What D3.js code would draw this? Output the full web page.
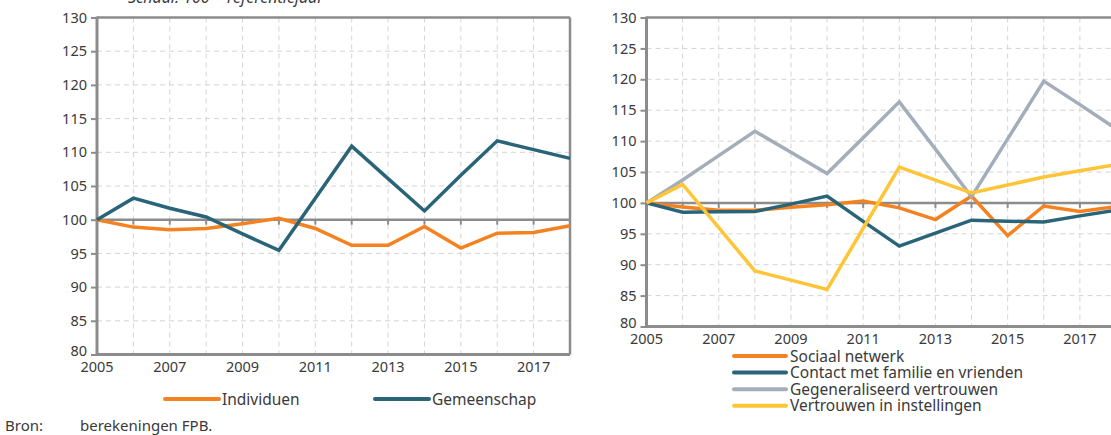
<!DOCTYPE html>
<html>
<head>
  <meta charset="utf-8">
  <script src="https://d3js.org/d3.v7.min.js"></script>
  <style>
    body { margin: 0; background: #fff; }
    svg text { font-family: "Noto Sans", sans-serif; fill: #3a3a3a; }
  </style>
</head>
<body>
  <div id="chart"></div>
  <script type="text/javascript">
  // data
  var years = [2005, 2006, 2007, 2008, 2009, 2010, 2011, 2012, 2013, 2014, 2015, 2016, 2017, 2018];
  var xLabels = [2005, 2007, 2009, 2011, 2013, 2015, 2017];
  var yTicks = [80, 85, 90, 95, 100, 105, 110, 115, 120, 125, 130];

  var individuen  = [100, 98.9, 98.5, 98.7, 99.4, 100.2, 98.7, 96.2, 96.2, 99.0, 95.8, 98.0, 98.1, 99.1];
  var gemeenschap = [100, 103.2, 101.7, 100.4, 97.9, 95.45, 103.2, 110.9, 106.1, 101.3, 106.6, 111.7, 110.4, 109.1];

  var sociaalNetwerk = [100, 99.35, 98.8, 98.8, 99.3, 99.7, 100.3, 99.2, 97.3, 101.1, 94.7, 99.5, 98.6, 99.4];
  var contactFamilie = [100, 98.5, 98.55, 98.6, 99.8, 101.1, 97.0, 93.0, 95.1, 97.2, 97.05, 96.9, 97.9, 98.8];
  var gegeneraliseerd = [100, 103.7, 107.65, 111.6, 108.2, 104.75, 110.55, 116.35, 108.7, 101.0, 110.35, 119.7, 115.9, 112.0];
  var instellingen = [100, 103.0, 96.0, 89.0, 87.5, 86.0, 95.9, 105.8, 103.7, 101.6, 102.9, 104.2, 105.2, 106.2];

  var W = 1111, H = 435;
  var svg = d3.select("#chart").append("svg")
      .attr("width", W)
      .attr("height", H);

  var axisCol = "#8c8c8c", gridCol = "#d4d4d4";

  function panel(o) {
    var x = d3.scaleLinear().domain([2005, 2018]).range([o.left, o.right]);
    var y = d3.scaleLinear().domain([80, 130]).range([o.bottom, o.top]);
    var g = svg.append("g");

    // dashed grid
    g.selectAll(".vg").data(years.slice(1)).enter().append("line")
      .attr("x1", function(d) { return x(d); }).attr("x2", function(d) { return x(d); })
      .attr("y1", o.top).attr("y2", o.bottom)
      .attr("stroke", gridCol).attr("stroke-width", 1).attr("stroke-dasharray", "5,4");
    g.selectAll(".hg").data(yTicks.filter(function(d) { return d > 80 && d < 130 && d != 100; })).enter().append("line")
      .attr("x1", o.left).attr("x2", o.right)
      .attr("y1", function(d) { return y(d); }).attr("y2", function(d) { return y(d); })
      .attr("stroke", gridCol).attr("stroke-width", 1).attr("stroke-dasharray", "5,4");

    // frame top/right
    g.append("line").attr("x1", o.left).attr("x2", o.right).attr("y1", o.top).attr("y2", o.top)
      .attr("stroke", axisCol).attr("stroke-width", 2.5);
    g.append("line").attr("x1", o.right).attr("x2", o.right).attr("y1", o.top).attr("y2", o.bottom)
      .attr("stroke", axisCol).attr("stroke-width", 2.5);

    // horizontal axis at 100 with ticks
    g.append("line").attr("x1", o.left).attr("x2", o.right).attr("y1", y(100)).attr("y2", y(100))
      .attr("stroke", axisCol).attr("stroke-width", 2.5);
    g.selectAll(".xt").data(years).enter().append("line")
      .attr("x1", function(d) { return x(d); }).attr("x2", function(d) { return x(d); })
      .attr("y1", y(100)).attr("y2", y(100) + 5)
      .attr("stroke", axisCol).attr("stroke-width", 2);

    // y axis
    var ya = d3.axisLeft(y).tickValues(yTicks).tickSize(6).tickPadding(4);
    var yg = g.append("g").attr("transform", "translate(" + o.left + ",0)").call(ya);
    yg.select(".domain").remove();
    yg.selectAll(".tick line").attr("stroke", axisCol).attr("stroke-width", 2);
    yg.selectAll(".tick text").attr("font-size", 14.5).attr("fill", "#3a3a3a")
      .style("font-family", "'Noto Sans', sans-serif");
    yg.selectAll(".tick").filter(function(d) { return d == 80; }).select("text").attr("dy", "0.1em");

    // bottom axis line + left axis line
    g.append("line").attr("x1", o.left).attr("x2", o.right).attr("y1", o.bottom).attr("y2", o.bottom)
      .attr("stroke", axisCol).attr("stroke-width", 3);
    g.append("line").attr("x1", o.left).attr("x2", o.left).attr("y1", o.top - 1).attr("y2", o.bottom + 1.5)
      .attr("stroke", axisCol).attr("stroke-width", 3);

    // year labels
    g.selectAll(".xl").data(xLabels).enter().append("text")
      .attr("x", function(d) { return x(d); })
      .attr("y", o.bottom + 17)
      .attr("text-anchor", "middle")
      .attr("font-size", 14.5)
      .text(function(d) { return d; });

    var line = d3.line()
      .x(function(d, i) { return x(years[i]); })
      .y(function(d) { return y(d); });

    o.series.forEach(function(s) {
      g.append("path")
        .attr("d", line(s.values))
        .attr("fill", "none")
        .attr("stroke", s.color)
        .attr("stroke-width", 3.5)
        .attr("stroke-linejoin", "miter");
    });
  }

  var colOrange = "#f58220", colTeal = "#2a6479", colGray = "#a3aeba", colYellow = "#ffc537";

  panel({
    left: 97, right: 570, top: 17.5, bottom: 354.5,
    series: [
      { values: individuen, color: colOrange },
      { values: gemeenschap, color: colTeal }
    ]
  });

  panel({
    left: 646.5, right: 1116, top: 17.5, bottom: 326.5,
    series: [
      { values: sociaalNetwerk, color: colOrange },
      { values: contactFamilie, color: colTeal },
      { values: gegeneraliseerd, color: colGray },
      { values: instellingen, color: colYellow }
    ]
  });

  // subtitle (cut off at the top)
  svg.append("text")
    .attr("x", 128).attr("y", 3)
    .attr("font-size", 16)
    .attr("font-style", "italic")
    .text("Schaal: 100 = referentiejaar");

  // left legend
  var legLeft = [
    { name: "Individuen", color: colOrange, x: 165 },
    { name: "Gemeenschap", color: colTeal, x: 375 }
  ];
  legLeft.forEach(function(l) {
    svg.append("line").attr("x1", l.x).attr("x2", l.x + 54).attr("y1", 399).attr("y2", 399)
      .attr("stroke", l.color).attr("stroke-width", 4).attr("stroke-linecap", "round");
    svg.append("text").attr("x", l.x + 57).attr("y", 404.5).attr("font-size", 15.5).text(l.name);
  });

  // right legend
  var legRight = [
    { name: "Sociaal netwerk", color: colOrange },
    { name: "Contact met familie en vrienden", color: colTeal },
    { name: "Gegeneraliseerd vertrouwen", color: colGray },
    { name: "Vertrouwen in instellingen", color: colYellow }
  ];
  legRight.forEach(function(l, i) {
    var yy = 356 + i * 16.6;
    svg.append("line").attr("x1", 734).attr("x2", 786).attr("y1", yy).attr("y2", yy)
      .attr("stroke", l.color).attr("stroke-width", 4).attr("stroke-linecap", "round");
    svg.append("text").attr("x", 790).attr("y", yy + 5.5).attr("font-size", 15.5).text(l.name);
  });

  // source
  svg.append("text").attr("x", 5).attr("y", 431).attr("font-size", 15).text("Bron:");
  svg.append("text").attr("x", 80).attr("y", 431).attr("font-size", 15).text("berekeningen FPB.");
  </script>
</body>
</html>
